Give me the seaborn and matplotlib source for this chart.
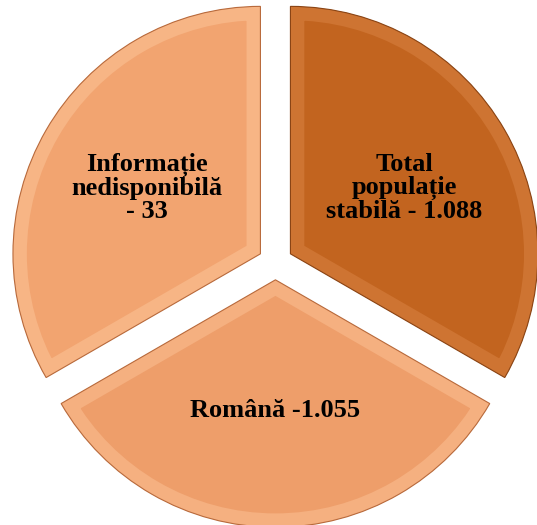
import matplotlib
matplotlib.use("Agg")
import matplotlib.pyplot as plt
import seaborn as sns

# --- date ---
etichete = ["Total\npopulație\nstabilă - 1.088", "Română -1.055", "Informație\nnedisponibilă\n- 33"]
# felii (grade) asa cum apar in imagine
felii = [120, 120, 120]
culori = ["#C2641F", "#EE9E6A", "#F2A470"]
benzi = ["#CE7432", "#F5B080", "#F7B585"]
contur = ["#8A4414", "#B86A3C", "#B86A3C"]
departare = [0.07, 0.07, 0.07]

sns.set_theme(style="white")
plt.rcParams['font.family'] = ['Liberation Serif', 'DejaVu Serif']

fig = plt.figure(figsize=(5.37, 5.25), dpi=100)
ax = fig.add_axes([0, 0, 1, 1])

wedges, texts = ax.pie(
    felii, labels=etichete, colors=culori, startangle=90, counterclock=False,
    explode=departare, labeldistance=0.53,
    wedgeprops=dict(linewidth=20),
    textprops=dict(fontsize=19, fontweight='bold', color='black'),
)
# banda tesita pe interiorul fiecarei felii
for w, b in zip(wedges, benzi):
    w.set_edgecolor(b)
    w.set_joinstyle('miter')
    w.set_clip_path(w)
    w.set_clip_on(True)
for t in texts:
    t.set_horizontalalignment('center')
    t.set_verticalalignment('center')
    t.set_linespacing(1.0)

# contur subtire
margini, _ = ax.pie(felii, startangle=90, counterclock=False, explode=departare,
                    wedgeprops=dict(fill=False, linewidth=0.8))
for m, c in zip(margini, contur):
    m.set_edgecolor(c)

ax.set_xlim(-1.113, 1.057)
ax.set_ylim(-1.06, 1.06)
ax.set_aspect('equal')
ax.axis('off')

plt.savefig('out.png', dpi=100)
plt.close()
